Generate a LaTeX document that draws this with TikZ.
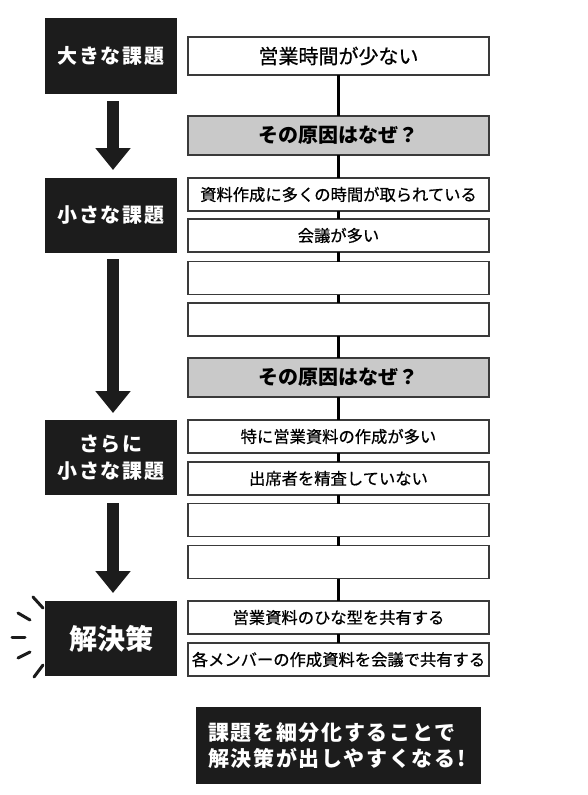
\documentclass[tikz,border=0pt]{standalone}
\usepackage{fontspec}
\setmainfont{Noto Sans CJK JP}
\newfontfamily\jpmed[FakeBold=0.6]{Noto Sans CJK JP}
\usetikzlibrary{arrows.meta}
\definecolor{boxblack}{HTML}{1C1C1C}
\definecolor{boxgray}{HTML}{C9C9C9}
\definecolor{edgegray}{HTML}{3A3A3A}
\begin{document}
\begin{tikzpicture}[x=1pt,y=-1pt,
  titlebox/.style={fill=boxblack, text=white, minimum width=132pt, minimum height=75pt,
    inner sep=0pt, outer sep=0pt, align=center,
    font=\fontsize{20pt}{27pt}\selectfont\bfseries\addfontfeatures{LetterSpace=9}},
  rbox/.style={draw=edgegray, line width=1.3pt, fill=white, text=black, minimum width=301pt, minimum height=33pt,
    inner sep=0pt, outer sep=0pt,
    font=\jpmed\fontsize{16.3pt}{19pt}\selectfont},
  bigbox/.style={rbox, minimum height=38pt,
    font=\jpmed\fontsize{20pt}{23pt}\selectfont},
  graybox/.style={bigbox, fill=boxgray, font=\fontsize{20pt}{23pt}\selectfont\bfseries},
  link/.style={line width=3pt, black},
  bigarrow/.style={line width=12pt, boxblack, -{Triangle[width=34pt,length=22pt]}},
  ray/.style={line width=3pt, boxblack, line cap=round}
]
\useasboundingbox (0,0) rectangle (588,795);
\fill[white] (0,0) rectangle (588,795);

% left column
\node[titlebox, minimum height=76pt] (t1) at (111,56) {大きな課題};
\node[titlebox] (t2) at (111,215.5) {小さな課題};
\node[titlebox] (t3) at (111,457.5) {さらに\\小さな課題};
\node[titlebox, font=\fontsize{28pt}{30pt}\selectfont\bfseries] (t4) at (111,638.5) {解決策};

\coordinate (a1s) at (113,101);
\coordinate (a1e) at (113,170);
\coordinate (a2s) at (113,259);
\coordinate (a2e) at (113,413);
\coordinate (a3s) at (113,503);
\coordinate (a3e) at (113,593);
\draw[bigarrow] (a1s) -- (a1e);
\draw[bigarrow] (a2s) -- (a2e);
\draw[bigarrow] (a3s) -- (a3e);

% burst
\draw[ray] (33,597) -- (43,608);
\draw[ray] (18,613) -- (30,620);
\draw[ray] (12,637) -- (25,637);
\draw[ray] (18,658) -- (30,652);
\draw[ray] (34,677) -- (43,665);

% right column
\node[bigbox] (r1) at (338.5,56) {営業時間が少ない};
\node[graybox, minimum height=39pt] (g1) at (338.5,135.5) {その原因はなぜ？};
\node[rbox] (r2) at (338.5,194.5) {資料作成に多くの時間が取られている};
\node[rbox] (r3) at (338.5,235.5) {会議が多い};
\node[rbox] (r4) at (338.5,278) {};
\node[rbox] (r5) at (338.5,319.5) {};
\node[graybox, minimum height=39pt] (g2) at (338.5,377.5) {その原因はなぜ？};
\node[rbox] (r6) at (338.5,436.5) {特に営業資料の作成が多い};
\node[rbox] (r7) at (338.5,478.5) {出席者を精査していない};
\node[rbox] (r8) at (338.5,520) {};
\node[rbox] (r9) at (338.5,562) {};
\node[rbox] (r10) at (338.5,617.5) {営業資料のひな型を共有する};
\node[rbox] (r11) at (338.5,659.5) {各メンバーの作成資料を会議で共有する};

\foreach \a/\b in {r1/g1, g1/r2, r2/r3, r3/r4, r4/r5, r5/g2, g2/r6, r6/r7, r7/r8, r8/r9, r9/r10, r10/r11}
  \draw[link] (\a.south) -- (\b.north);

% conclusion
\node[fill=boxblack, text=white, text width=261pt, inner xsep=12pt, minimum height=77pt,
  inner ysep=0pt, align=left,
  font=\fontsize{21pt}{25.5pt}\selectfont\bfseries\addfontfeatures{LetterSpace=8}] (c) at (338.5,745.5)
  {課題を細分化することで\\解決策が出しやすくなる!};
\end{tikzpicture}
\end{document}
